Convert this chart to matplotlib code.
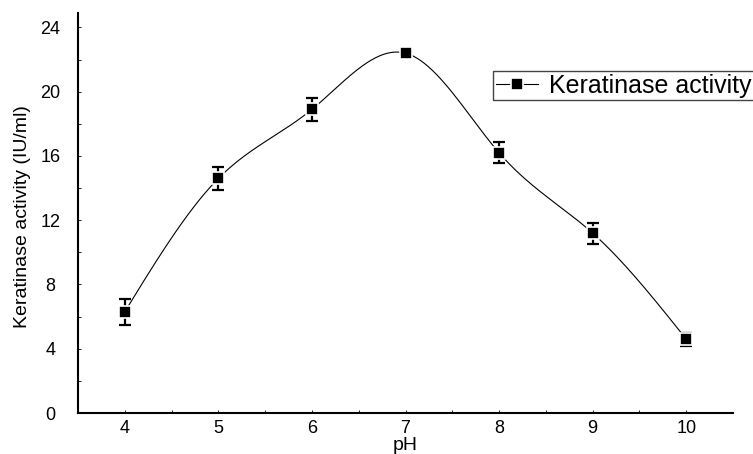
import numpy as np
import matplotlib.pyplot as plt
from matplotlib.lines import Line2D

plt.rcParams['font.family'] = ['Liberation Sans', 'DejaVu Sans']

# donnees
ph = [4, 5, 6, 7, 8, 9, 10]
activity = [6.3, 14.6, 18.9, 22.4, 16.2, 11.2, 4.6]
err = [0.8, 0.7, 0.7, 0.15, 0.65, 0.65, 0.4]


def natural_spline(x, y, n=400):
    # spline cubique naturelle, juste pour tracer la courbe lisse
    x = np.asarray(x, float)
    y = np.asarray(y, float)
    k = len(x)
    h = np.diff(x)
    A = np.zeros((k, k))
    b = np.zeros(k)
    A[0, 0] = 1
    A[-1, -1] = 1
    for i in range(1, k - 1):
        A[i, i - 1] = h[i - 1]
        A[i, i] = 2 * (h[i - 1] + h[i])
        A[i, i + 1] = h[i]
        b[i] = 6 * ((y[i + 1] - y[i]) / h[i] - (y[i] - y[i - 1]) / h[i - 1])
    M = np.linalg.solve(A, b)
    xs = np.linspace(x[0], x[-1], n)
    idx = np.clip(np.searchsorted(x, xs) - 1, 0, k - 2)
    x0, x1 = x[idx], x[idx + 1]
    hh = x1 - x0
    t0 = x1 - xs
    t1 = xs - x0
    ys = (M[idx] * t0**3 + M[idx + 1] * t1**3) / (6 * hh) \
        + (y[idx] / hh - M[idx] * hh / 6) * t0 \
        + (y[idx + 1] / hh - M[idx + 1] * hh / 6) * t1
    return xs, ys


fig = plt.figure(figsize=(7.53, 4.54), dpi=100)
ax = fig.add_axes([78 / 753, 1 - 413 / 454, 655 / 753, 400 / 454])

xs, ys = natural_spline(ph, activity)
ax.plot(xs, ys, color='black', lw=0.8, zorder=2)
ax.errorbar(ph, activity, yerr=err, fmt='none', ecolor='black',
            elinewidth=1.6, capsize=4.5, capthick=1.6, zorder=3)
ax.plot(ph, activity, ls='none', marker='s', ms=9, mfc='black',
        mec='white', mew=1.2, zorder=4)

ax.set_xlim(3.5, 10.5)
ax.set_ylim(0, 24.9)
ax.set_xticks(ph)
ax.set_xticks(np.arange(4.5, 10.5, 1), minor=True)
ax.set_yticks(np.arange(0, 25, 4))
ax.set_yticks(np.arange(2, 24, 4), minor=True)

for s in ['top', 'right']:
    ax.spines[s].set_visible(False)
for s in ['left', 'bottom']:
    ax.spines[s].set_linewidth(1.5)

ax.tick_params(which='both', direction='in', length=2, width=0.6)
ax.tick_params(axis='x', labelsize=13, pad=5)
ax.tick_params(axis='y', labelsize=13, pad=20)
for lab in ax.get_yticklabels():
    lab.set_ha('center')

ax.set_xlabel('pH', fontsize=14)
ax.xaxis.set_label_coords(0.5, -0.06)
ax.set_ylabel('Keratinase activity (IU/ml)', fontsize=14)
ax.yaxis.set_label_coords(-0.072, 0.49)

handle = Line2D([], [], color='black', lw=0.8, marker='s', ms=9,
                mfc='black', mec='white', mew=1.2)
leg = fig.legend([handle], ['Keratinase activity'], loc='upper left',
                 bbox_to_anchor=(493 / 753, 1 - 71 / 454), fontsize=18,
                 fancybox=False, framealpha=1, edgecolor='#444444',
                 borderpad=0.1, borderaxespad=0, handlelength=1.7,
                 handletextpad=0.45)
leg.get_frame().set_linewidth(1.0)

fig.savefig('out.png', dpi=100)
